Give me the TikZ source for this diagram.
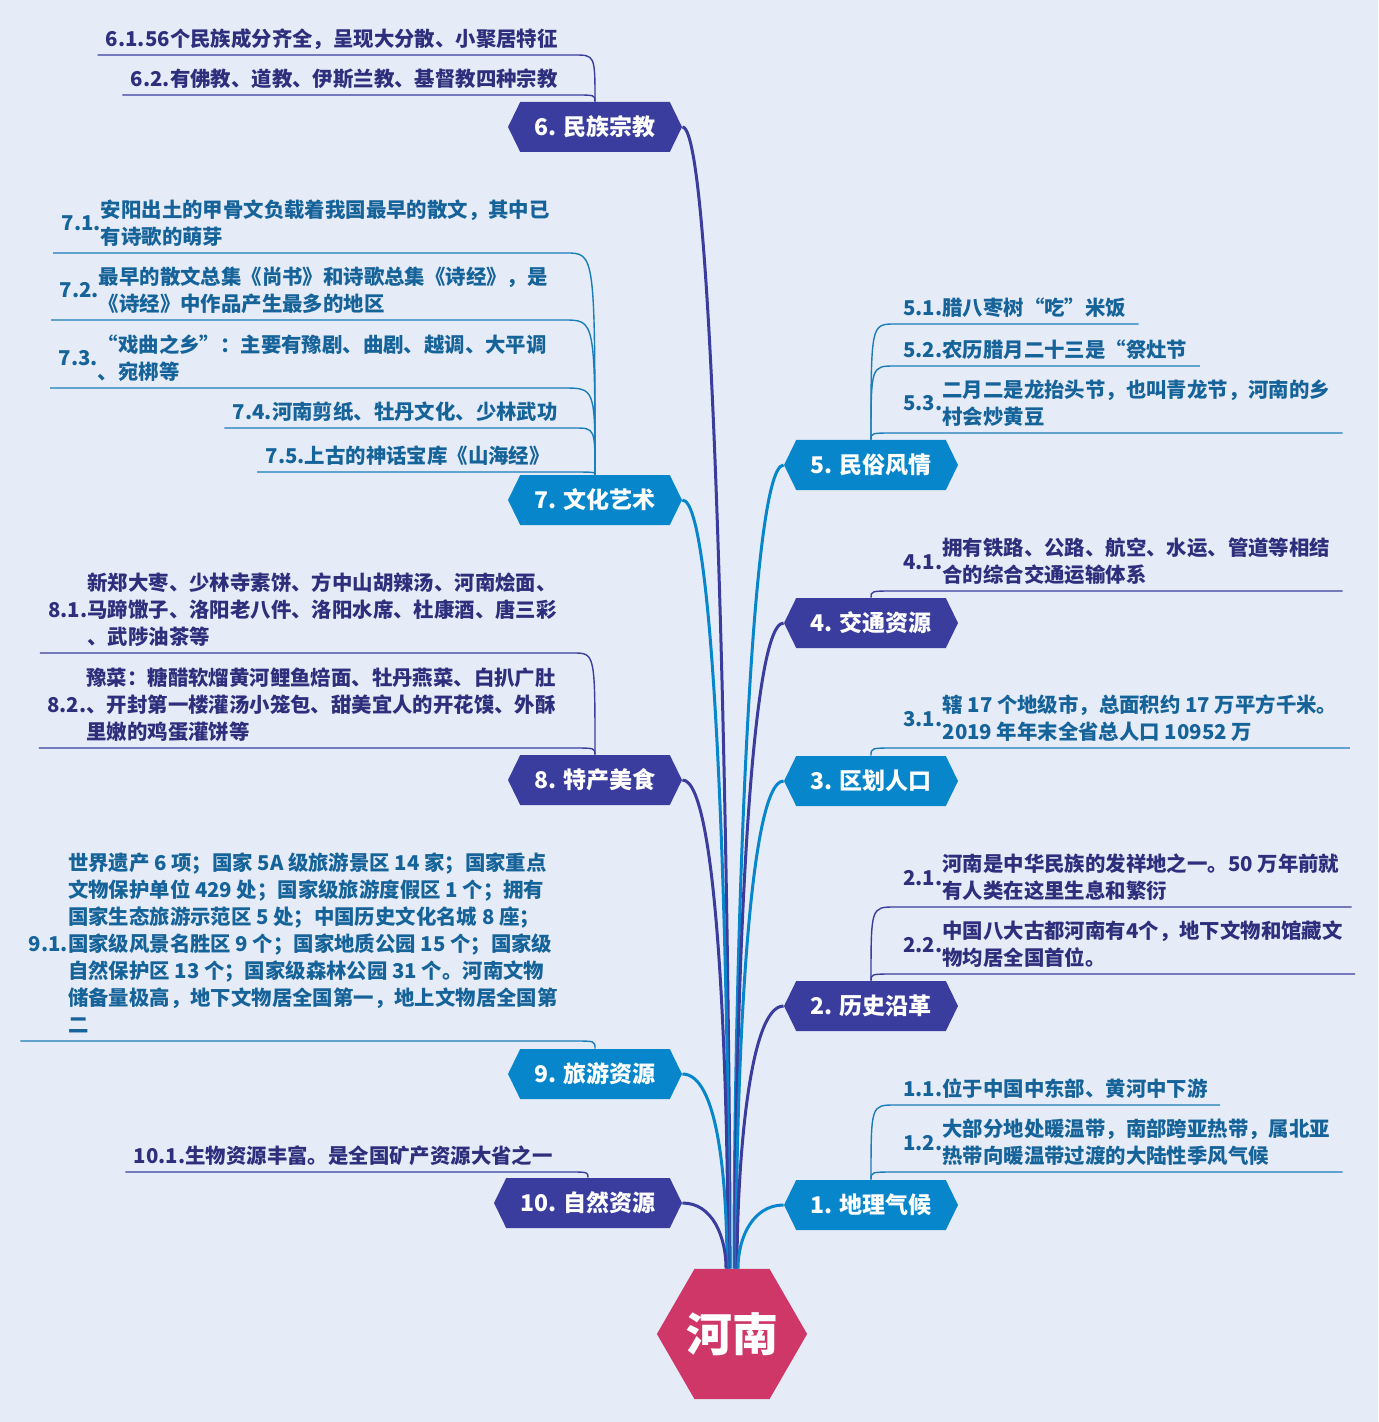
\documentclass[tikz,border=0pt]{standalone}
\usepackage{fontspec}
\setmainfont{Noto Sans CJK SC}
\usetikzlibrary{shapes.geometric,shapes.symbols}
\definecolor{bgc}{HTML}{E5ECF7}
\definecolor{ind}{HTML}{3A3D9E}
\definecolor{blu}{HTML}{0786CB}
\definecolor{mag}{HTML}{CE3767}
\definecolor{tind}{HTML}{2E2F7C}
\definecolor{tblu}{HTML}{16639A}
\definecolor{lblu}{HTML}{1A7DBA}
\newcommand\lft[2]{\begin{tabular}{@{}l@{}}#1\end{tabular}\begin{tabular}{@{}l@{}}#2\end{tabular}}
\tikzset{
  brnode/.style={signal, signal to=west and east, signal pointer angle=128,
    minimum width=87pt, minimum height=25pt, inner sep=0pt, text=white,
    font=\fontsize{11.5}{13}\selectfont\bfseries},
  brI/.style={brnode, fill=ind},
  brB/.style={brnode, fill=blu},
  leaf/.style={inner xsep=4pt, inner ysep=0pt, font=\fontsize{10.2}{13.5}\selectfont\bfseries},
  lfL/.style={leaf, anchor=south east},
  lfR/.style={leaf, anchor=south west},
  tI/.style={text=tind},
  tB/.style={text=tblu},
  mI/.style={draw=ind, line width=1.5pt},
  mB/.style={draw=blu, line width=1.5pt},
  kI/.style={draw=ind, line width=0.7pt},
  kB/.style={draw=lblu, line width=0.7pt},
}
\begin{document}
\begin{tikzpicture}[x=0.5pt,y=-0.5pt]
\useasboundingbox (0,0) rectangle (1378,1422);
\fill[bgc] (0,0) rectangle (1378,1422);

% centre
\node[regular polygon, regular polygon sides=6, minimum size=75pt, inner sep=0pt,
  fill=mag, text=white, font=\fontsize{23}{26}\selectfont\bfseries] (hex) at (732,1334) {河南};

% branches
\node[brB] (b1) at (871,1205) {1. 地理气候};
\node[brI] (b2) at (871,1006) {2. 历史沿革};
\node[brB] (b3) at (871,781) {3. 区划人口};
\node[brI] (b4) at (871,623) {4. 交通资源};
\node[brB] (b5) at (871,465) {5. 民俗风情};
\node[brI] (b6) at (595,127) {6. 民族宗教};
\node[brB] (b7) at (595,500) {7. 文化艺术};
\node[brI] (b8) at (595,780) {8. 特产美食};
\node[brB] (b9) at (595,1074) {9. 旅游资源};
\node[brI, minimum width=94pt] (b10) at (588,1203) {10. 自然资源};

% main connectors
\draw[mI] ([xshift=-1pt]hex.north) .. controls +(0,-300) and +(35,0) .. (b6.east);
\draw[mB] ([xshift=-1.5pt]hex.north) .. controls +(0,-280) and +(35,0) .. (b7.east);
\draw[mI] ([xshift=-2pt]hex.north) .. controls +(0,-200) and +(35,0) .. (b8.east);
\draw[mB] ([xshift=-2.5pt]hex.north) .. controls +(0,-90) and +(35,0) .. (b9.east);
\draw[mI] ([xshift=-3pt]hex.north) .. controls +(0,-32) and +(30,0) .. (b10.east);
\draw[mB] ([xshift=1pt]hex.north) .. controls +(0,-280) and +(-35,0) .. (b5.west);
\draw[mI] ([xshift=1.5pt]hex.north) .. controls +(0,-260) and +(-35,0) .. (b4.west);
\draw[mB] ([xshift=2pt]hex.north) .. controls +(0,-200) and +(-35,0) .. (b3.west);
\draw[mI] ([xshift=2.5pt]hex.north) .. controls +(0,-100) and +(-35,0) .. (b2.west);
\draw[mB] ([xshift=3pt]hex.north) .. controls +(0,-32) and +(-30,0) .. (b1.west);

% leaves of 6
\node[lfL,tI] (l61) at (566,55) {\lft{6.1.}{56个民族成分齐全，呈现大分散、小聚居特征}};
\node[lfL,tI] (l62) at (566,95) {\lft{6.2.}{有佛教、道教、伊斯兰教、基督教四种宗教}};
% leaves of 7
\node[lfL,tB] (l71) at (558,253) {\lft{7.1.}{安阳出土的甲骨文负载着我国最早的散文，其中已\\有诗歌的萌芽}};
\node[lfL,tB] (l72) at (556,320) {\lft{7.2.}{最早的散文总集《尚书》和诗歌总集《诗经》，是\\《诗经》中作品产生最多的地区}};
\node[lfL,tB] (l73) at (555,388) {\lft{7.3.}{“戏曲之乡”：主要有豫剧、曲剧、越调、大平调\\、宛梆等}};
\node[lfL,tB] (l74) at (566,428) {\lft{7.4.}{河南剪纸、牡丹文化、少林武功}};
\node[lfL,tB] (l75) at (558,472) {\lft{7.5.}{上古的神话宝库《山海经》}};
% leaves of 8
\node[lfL,tI] (l81) at (565,653) {\lft{8.1.}{新郑大枣、少林寺素饼、方中山胡辣汤、河南烩面、\\马蹄馓子、洛阳老八件、洛阳水席、杜康酒、唐三彩\\、武陟油茶等}};
\node[lfL,tI] (l82) at (564,748) {\lft{8.2.}{豫菜：糖醋软熘黄河鲤鱼焙面、牡丹燕菜、白扒广肚\\、开封第一楼灌汤小笼包、甜美宜人的开花馍、外酥\\里嫩的鸡蛋灌饼等}};
% leaves of 9
\node[lfL,tB] (l91) at (566,1041) {\lft{9.1.}{世界遗产 6 项；国家 5A 级旅游景区 14 家；国家重点\\文物保护单位 429 处；国家级旅游度假区 1 个；拥有\\国家生态旅游示范区 5 处；中国历史文化名城 8 座；\\国家级风景名胜区 9 个；国家地质公园 15 个；国家级\\自然保护区 13 个；国家级森林公园 31 个。河南文物\\储备量极高，地下文物居全国第一，地上文物居全国第\\二}};
% leaves of 10
\node[lfL,tI] (l101) at (561,1172) {\lft{10.1.}{生物资源丰富。是全国矿产资源大省之一}};

% right leaves
\node[lfR,tB] (l51) at (895,324) {\lft{5.1.}{腊八枣树“吃”米饭}};
\node[lfR,tB] (l52) at (895,366) {\lft{5.2.}{农历腊月二十三是“祭灶节}};
\node[lfR,tB] (l53) at (895,433) {\lft{5.3.}{二月二是龙抬头节，也叫青龙节，河南的乡\\村会炒黄豆}};
\node[lfR,tI] (l41) at (895,591) {\lft{4.1.}{拥有铁路、公路、航空、水运、管道等相结\\合的综合交通运输体系}};
\node[lfR,tB] (l31) at (895,748) {\lft{3.1.}{辖 17 个地级市，总面积约 17 万平方千米。\\2019 年年末全省总人口 10952 万}};
\node[lfR,tI] (l21) at (895,907) {\lft{2.1.}{河南是中华民族的发祥地之一。50 万年前就\\有人类在这里生息和繁衍}};
\node[lfR,tI] (l22) at (895,974) {\lft{2.2.}{中国八大古都河南有4个，地下文物和馆藏文\\物均居全国首位。}};
\node[lfR,tB] (l11) at (895,1105) {\lft{1.1.}{位于中国中东部、黄河中下游}};
\node[lfR,tB] (l12) at (895,1172) {\lft{1.2.}{大部分地处暖温带，南部跨亚热带，属北亚\\热带向暖温带过渡的大陆性季风气候}};

% leaf connectors, left
\foreach \b/\l/\s in {b6/l61/kI, b6/l62/kI, b7/l71/kB, b7/l72/kB, b7/l73/kB, b7/l74/kB, b7/l75/kB,
                      b8/l81/kI, b8/l82/kI, b9/l91/kB, b10/l101/kI}
  \draw[\s] (\b.north) .. controls (\b.north |- \l.south east) .. ([xshift=4pt]\l.south east) -- (\l.south west);
% leaf connectors, right
\foreach \b/\l/\s in {b5/l51/kB, b5/l52/kB, b5/l53/kB, b4/l41/kI, b3/l31/kB,
                      b2/l21/kI, b2/l22/kI, b1/l11/kB, b1/l12/kB}
  \draw[\s] (\b.north) .. controls (\b.north |- \l.south west) .. (\l.south west) -- ([xshift=2pt]\l.south east);
\end{tikzpicture}
\end{document}
